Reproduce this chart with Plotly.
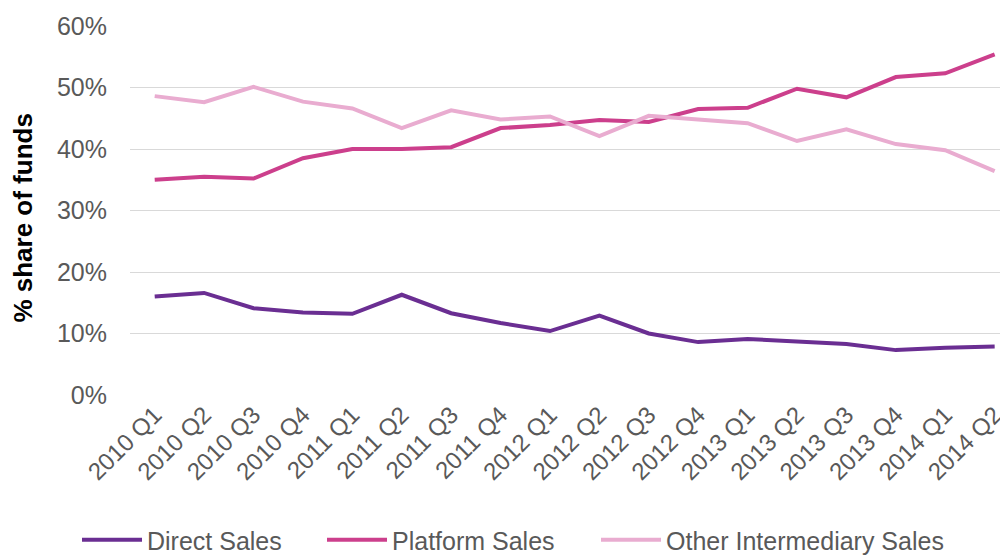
import plotly.graph_objects as go

categories = ["2010 Q1", "2010 Q2", "2010 Q3", "2010 Q4",
              "2011 Q1", "2011 Q2", "2011 Q3", "2011 Q4",
              "2012 Q1", "2012 Q2", "2012 Q3", "2012 Q4",
              "2013 Q1", "2013 Q2", "2013 Q3", "2013 Q4",
              "2014 Q1", "2014 Q2"]

direct_sales = [16.0, 16.6, 14.1, 13.4, 13.2, 16.3, 13.3, 11.7, 10.4,
                12.9, 10.0, 8.6, 9.1, 8.7, 8.3, 7.3, 7.7, 7.9]
platform_sales = [35.0, 35.5, 35.2, 38.5, 40.0, 40.0, 40.3, 43.4, 43.9,
                  44.7, 44.4, 46.5, 46.7, 49.8, 48.4, 51.7, 52.3, 55.4]
other_intermediary = [48.6, 47.6, 50.1, 47.7, 46.6, 43.4, 46.3, 44.8, 45.3,
                      42.1, 45.4, 44.8, 44.2, 41.3, 43.2, 40.8, 39.8, 36.4]

y_ticks = [0, 10, 20, 30, 40, 50, 60]

FONT = "Liberation Sans, Arial, sans-serif"
GRAY = "#595959"

series = [
    ("Direct Sales", direct_sales, "#6a2e92", "legend"),
    ("Platform Sales", platform_sales, "#cc3f8c", "legend2"),
    ("Other Intermediary Sales", other_intermediary, "#e9acd0", "legend3"),
]

fig = go.Figure()
for name, vals, color, leg in series:
    fig.add_trace(go.Scatter(
        x=categories, y=vals, name=name, mode="lines",
        line=dict(color=color, width=4), legend=leg,
    ))

# the page body adds an 8px offset, so the figure is 8px smaller each way
W, H = 1000, 548

leg_common = dict(orientation="h", xref="container", yref="container",
                  yanchor="middle", y=0.029, bgcolor="rgba(0,0,0,0)",
                  itemwidth=60,
                  font=dict(family=FONT, size=25, color=GRAY))

fig.update_layout(
    width=W, height=H,
    margin=dict(l=122, r=0, t=18, b=161),
    paper_bgcolor="white", plot_bgcolor="white",
    font=dict(family=FONT, size=25, color=GRAY),
    showlegend=True,
    legend=dict(x=69 / W, **leg_common),
    legend2=dict(x=314 / W, **leg_common),
    legend3=dict(x=588 / W, **leg_common),
    xaxis=dict(type="category", range=[-0.5, 17.27], tickangle=-45,
               showgrid=False, showline=False, zeroline=False, ticks="",
               automargin=False,
               tickfont=dict(family=FONT, size=24, color=GRAY)),
    yaxis=dict(range=[0, 60], tickvals=y_ticks,
               ticktext=[f"{v}%" for v in y_ticks],
               showgrid=True, gridcolor="#d9d9d9", gridwidth=1,
               zeroline=False, showline=False, ticks="",
               automargin=False, ticklabelstandoff=22,
               tickfont=dict(family=FONT, size=25, color=GRAY)),
    annotations=[dict(text="<b>% share of funds</b>", textangle=-90,
                      xref="paper", yref="paper", x=-(122 - 15) / 878, y=0.478,
                      xanchor="center", yanchor="middle", showarrow=False,
                      font=dict(family=FONT, size=26, color="black"))],
)

fig.write_html("out.html")
